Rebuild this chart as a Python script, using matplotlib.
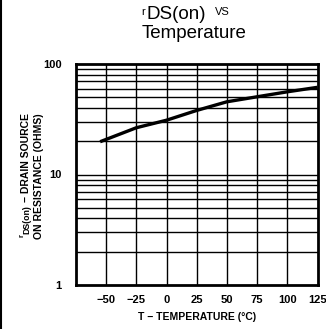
import matplotlib
matplotlib.use("Agg")
import matplotlib.pyplot as plt
from matplotlib.lines import Line2D

temps = [-55, -25, 0, 25, 50, 75, 100, 125]
rds_on = [19.8, 26.5, 31.0, 38.0, 45.5, 50.5, 56.0, 61.5]
x_ticks = [-50, -25, 0, 25, 50, 75, 100, 125]
x_tick_labels = ["\u221250", "\u221225", "0", "25", "50", "75", "100", "125"]
y_ticks = [1, 10, 100]
y_tick_labels = ["1", "10", "100"]
y_grid = [m * d for d in (1, 10) for m in range(2, 10)] + [10]

plt.rcParams['font.family'] = ['Liberation Sans', 'DejaVu Sans']

W, H = 326, 329
fig = plt.figure(figsize=(W/100, H/100), dpi=100)
ax = fig.add_axes([76/W, 1-285/H, 242/W, 221/H])
ax.set_yscale('log')
ax.set_xlim(-75, 125.5)
ax.set_ylim(1, 100)

for g in y_grid:
    ax.axhline(g, color='black', lw=1.0, zorder=1)
for t in x_ticks[:-1]:
    ax.axvline(t, color='black', lw=1.0, zorder=1)

ax.plot(temps, rds_on, color='black', lw=2.4, zorder=3, solid_capstyle='butt')

ax.set_xticks(x_ticks)
ax.set_xticklabels(x_tick_labels, fontsize=8, fontweight='bold')
ax.set_yticks(y_ticks)
ax.set_yticklabels(y_tick_labels, fontsize=8, fontweight='bold')
ax.minorticks_off()
ax.tick_params(axis='x', length=0, pad=7)
ax.tick_params(axis='y', length=0, pad=10.5)
for s in ax.spines.values():
    s.set_linewidth(2.0)
    s.set_color('black')

fig.text(197/W, 1-317/H, "T \u2212 TEMPERATURE (\u00b0C)", ha='center', va='center',
         fontsize=7.5, fontweight='bold')

# y label, line 1 built from pieces of different sizes
fig.canvas.draw()
renderer = fig.canvas.get_renderer()
inv = fig.transFigure.inverted()
t1 = fig.text(26/W, 1-113/H, "\u2212 DRAIN SOURCE", rotation=90, ha='center', va='top',
              fontsize=7.5, fontweight='bold')
bb = t1.get_window_extent(renderer)
y_bottom = inv.transform((0, bb.y0))[1]
t2 = fig.text(27/W, y_bottom - 3/H, "DS(on)", rotation=90, ha='center', va='top',
              fontsize=6.3, fontweight='bold')
bb2 = t2.get_window_extent(renderer)
y_bottom2 = inv.transform((0, bb2.y0))[1]
fig.text(22.5/W, y_bottom2, "r", rotation=90, ha='center', va='top',
         fontsize=5.5, fontweight='bold')

fig.text(39/W, 1-113/H, "ON RESISTANCE (OHMS)", rotation=90, ha='center', va='top',
         fontsize=7.5, fontweight='bold')

fig.text(141/W, 1-7/H, "r", ha='left', va='top', fontsize=8)
fig.text(146/W, 1-19/H, "DS(on)", ha='left', va='baseline', fontsize=13.5)
fig.text(215/W, 1-7/H, "VS", ha='left', va='top', fontsize=8)
fig.text(194/W, 1-38/H, "Temperature", ha='center', va='baseline', fontsize=13.5)

fig.add_artist(Line2D([1/W, 1/W], [0, 1], color='black', lw=1.5, transform=fig.transFigure))

fig.savefig("out.png", dpi=100)
